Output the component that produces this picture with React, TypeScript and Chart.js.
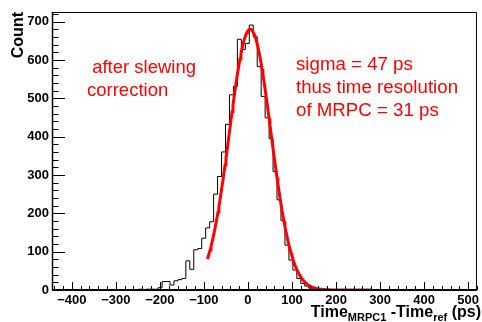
import React, { useEffect, useRef } from "react";
import { Chart, registerables } from "chart.js";

Chart.register(...registerables);

// Histogram: 9 ps bins, first listed bin low edge at -258 ps
const binStart = -258;
const binWidth = 9;
const binCounts = [
  1, 1, 2, 1, 2, 2, 2, 6, 22, 22, 13, 24, 27, 30, 76, 54, 105, 108, 135, 162,
  178, 250, 296, 360, 432, 509, 531, 654, 627, 643, 691, 660, 583, 505, 449,
  395, 309, 235, 181, 117, 78, 52, 30, 17, 10, 5, 3, 1, 1,
];
const histLow = -450;
const histHigh = 450;

// Gaussian fit parameters
const fitConstant = 680;
const fitMean = 5;
const fitSigma = 47;
const fitRange = [-92, 280];

const xTickValues = [-400, -300, -200, -100, 0, 100, 200, 300, 400, 500];
const yTickValues = [0, 100, 200, 300, 400, 500, 600, 700];

const leftNote = [" after slewing", "correction"];
const rightNote = ["sigma = 47 ps", "thus time resolution", "of MRPC = 31 ps"];

const FONT = "'Liberation Sans', Arial, Helvetica, sans-serif";

export default function App() {
  const ref = useRef<HTMLCanvasElement | null>(null);

  useEffect(() => {
    if (!ref.current) return;

    const histPoints: { x: number; y: number }[] = [{ x: histLow, y: 0 }];
    binCounts.forEach((c, i) => histPoints.push({ x: binStart + i * binWidth, y: c }));
    histPoints.push({ x: binStart + binCounts.length * binWidth, y: 0 });
    histPoints.push({ x: histHigh, y: 0 });

    const fitPoints: { x: number; y: number }[] = [];
    for (let x = fitRange[0]; x <= fitRange[1]; x += 2) {
      const z = (x - fitMean) / fitSigma;
      fitPoints.push({ x, y: fitConstant * Math.exp(-0.5 * z * z) });
    }

    const axesPlugin = {
      id: "rootAxes",
      afterDraw(chart: any) {
        const { ctx, chartArea: a, scales } = chart;
        const xs = scales.x;
        const ys = scales.y;
        ctx.save();
        // frame
        ctx.strokeStyle = "#000";
        ctx.lineWidth = 1;
        ctx.beginPath();
        ctx.moveTo(a.left, a.top + 0.5);
        ctx.lineTo(a.right - 0.5, a.top + 0.5);
        ctx.lineTo(a.right - 0.5, a.bottom);
        ctx.stroke();
        // axes lines
        ctx.lineWidth = 1.5;
        ctx.beginPath();
        ctx.moveTo(a.left + 0.5, a.top);
        ctx.lineTo(a.left + 0.5, a.bottom);
        ctx.stroke();
        ctx.lineWidth = 2;
        ctx.beginPath();
        ctx.moveTo(a.left, a.bottom);
        ctx.lineTo(a.right, a.bottom);
        ctx.stroke();
        // y ticks
        ctx.lineWidth = 1;
        ctx.beginPath();
        for (let v = 0; v <= ys.max; v += 20) {
          const y = Math.round(ys.getPixelForValue(v)) + 0.5;
          const len = v % 100 === 0 ? 13 : 6.5;
          ctx.moveTo(a.left, y);
          ctx.lineTo(a.left + len, y);
        }
        ctx.stroke();
        // x ticks
        ctx.beginPath();
        for (let v = -440; v <= xs.max; v += 20) {
          if (v < xs.min) continue;
          const x = Math.round(xs.getPixelForValue(v)) + 0.5;
          const len = v % 100 === 0 ? 8 : 4;
          ctx.moveTo(x, a.bottom);
          ctx.lineTo(x, a.bottom - len);
        }
        ctx.stroke();

        // notes
        ctx.fillStyle = "#ff0000";
        ctx.textAlign = "left";
        ctx.textBaseline = "alphabetic";
        ctx.font = `18.5px ${FONT}`;
        ctx.fillText(leftNote[0], 87, 73);
        ctx.fillText(leftNote[1], 87, 96);
        ctx.font = `18.7px ${FONT}`;
        rightNote.forEach((t, i) => ctx.fillText(t, 296, 70 + i * 23));

        // y title
        ctx.fillStyle = "#000";
        ctx.font = `bold 16px ${FONT}`;
        ctx.save();
        ctx.translate(23, a.top);
        ctx.rotate(-Math.PI / 2);
        ctx.textAlign = "right";
        ctx.fillText("Count", 0, 0);
        ctx.restore();

        // x title with subscripts
        const parts: [string, boolean][] = [
          ["Time", false],
          ["MRPC1", true],
          [" -Time", false],
          ["ref", true],
          [" (ps)", false],
        ];
        const big = `bold 16px ${FONT}`;
        const small = `bold 11px ${FONT}`;
        let total = 0;
        parts.forEach(([t, sub]) => {
          ctx.font = sub ? small : big;
          total += ctx.measureText(t).width;
        });
        let x = 481 - total;
        ctx.textAlign = "left";
        parts.forEach(([t, sub]) => {
          ctx.font = sub ? small : big;
          ctx.fillText(t, x, sub ? 320.5 : 316.5);
          x += ctx.measureText(t).width;
        });
        ctx.restore();
      },
    };

    const chart = new Chart(ref.current, {
      type: "line",
      data: {
        datasets: [
          {
            label: "fit",
            data: fitPoints,
            borderColor: "#ff0000",
            borderWidth: 3,
            pointRadius: 0,
            tension: 0,
            fill: false,
          },
          {
            label: "hist",
            data: histPoints,
            borderColor: "#000000",
            borderWidth: 1,
            pointRadius: 0,
            stepped: "after",
            fill: false,
          },
        ],
      },
      options: {
        animation: false,
        responsive: false,
        devicePixelRatio: 1,
        layout: { padding: { top: 12, right: 1, left: 0, bottom: 0 } },
        plugins: { legend: { display: false }, tooltip: { enabled: false } },
        scales: {
          x: {
            type: "linear",
            min: -445,
            max: 520,
            grid: { display: false, drawTicks: false },
            border: { display: false },
            afterBuildTicks: (s: any) => {
              s.ticks = xTickValues.map((v) => ({ value: v }));
            },
            afterFit: (s: any) => {
              s.height = 32;
            },
            ticks: {
              padding: 3,
              maxRotation: 0,
              autoSkip: false,
              color: "#000",
              font: { family: FONT, size: 13, weight: "bold" },
              callback: (v: any) => (Number(v) < 0 ? "\u2212" + Math.abs(Number(v)) : String(v)),
            },
          },
          y: {
            type: "linear",
            min: 0,
            max: 725,
            grid: { display: false, drawTicks: false },
            border: { display: false },
            afterBuildTicks: (s: any) => {
              s.ticks = yTickValues.map((v) => ({ value: v }));
            },
            afterFit: (s: any) => {
              s.width = 52;
            },
            ticks: {
              padding: 3,
              autoSkip: false,
              color: "#000",
              font: { family: FONT, size: 13, weight: "bold" },
              callback: (v: any) => String(v),
            },
          },
        },
      },
      plugins: [axesPlugin],
    } as any);

    return () => chart.destroy();
  }, []);

  return (
    <div style={{ position: "fixed", left: 0, top: 0, width: 482, height: 322, background: "#fff" }}>
      <canvas ref={ref} width={482} height={322} style={{ width: 482, height: 322, display: "block" }} />
    </div>
  );
}
